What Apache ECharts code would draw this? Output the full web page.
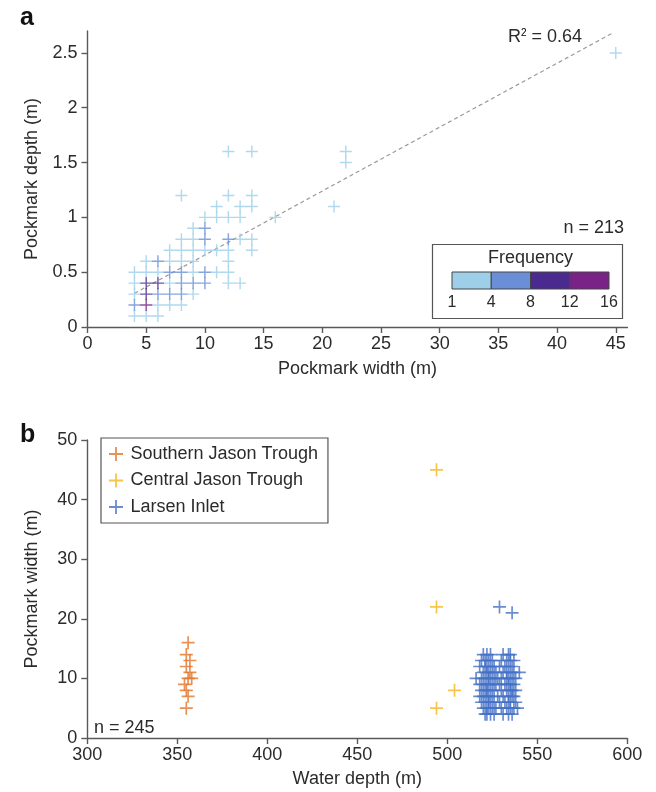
<!DOCTYPE html>
<html><head><meta charset="utf-8">
<script src="https://cdn.jsdelivr.net/npm/echarts@6/dist/echarts.min.js"></script>
<style>html,body{margin:0;padding:0;background:#fff}#c{width:656px;height:792px}</style>
</head><body><div id="c"></div>
<script>
// ---------- Panel a : pockmark width vs depth, coloured by frequency ----------
const widthA = [45,22,22,21,16, 12,14, 8,12,14, 11,13,14, 10,11,12,13, 9,10,
  8,9,10,12,13,14, 7,8,9,10,11,12,14, 5,6,7,8,9,12, 4,5,6,7,8,9,10,11,12,
  4,5,6,7,8,9,10,12,13, 4,5,6,7,8,9, 4,5,6,7,8, 4,5,6];
const depthA = [2.5,1.6,1.5,1.1,1.0, 1.6,1.6, 1.2,1.2,1.2, 1.1,1.1,1.1, 1.0,1.0,1.0,1.0, 0.9,0.9,
  0.8,0.8,0.8,0.8,0.8,0.8, 0.7,0.7,0.7,0.7,0.7,0.7,0.7, 0.6,0.6,0.6,0.6,0.6,0.6,
  0.5,0.5,0.5,0.5,0.5,0.5,0.5,0.5,0.5, 0.4,0.4,0.4,0.4,0.4,0.4,0.4,0.4,0.4,
  0.3,0.3,0.3,0.3,0.3,0.3, 0.2,0.2,0.2,0.2,0.2, 0.1,0.1,0.1];
const freqA = [1,1,1,1,1, 1,1, 1,1,1, 1,1,1, 2,1,1,1, 2,5,
  1,2,6,4,1,2, 2,2,3,3,2,1,1, 2,5,3,3,2,1, 3,3,3,6,6,3,6,1,1,
  3,10,9,3,6,5,6,2,1, 3,11,6,6,4,2, 6,13,3,2,2, 2,3,2];
const fitSlope = 0.0583, fitIntercept = 0.074, fitXRange = [4, 44.8];
const r2Text = '0.64', nA = 213;
const xTicksA = [0,5,10,15,20,25,30,35,40,45];
const yTicksA = [0,0.5,1,1.5,2,2.5];
const freqBreaks = [1,4,8,12,16];
const freqColors = ['#9dcfe8','#6a8fd6','#4b2a8f','#7a2387'];

// ---------- Panel b : water depth vs pockmark width ----------
const sjtDepth = [356,355,357,355,357,358,356,354,355,356,355];
const sjtWidth = [16,14,13,12,11,10,10,9,8,7,5];
const cjtDepth = [494,494,504,494];
const cjtWidth = [45,22,8,5];
const liOutDepth = [529,536];
const liOutWidth = [22,21];
const liRowWidth = [14,13,12,11,10,9,8,7,6,5,4];
const liRowDepths = [
  [520,522,524,531,534,535],
  [519,521,523,525,530,533,535,537],
  [518,521,522,524,526,529,532,534,536],
  [520,522,523,525,527,531,533,535,537,540],
  [516,519,521,523,524,526,528,530,533,534,536,538],
  [518,520,522,523,525,527,529,532,534,535,537],
  [519,521,522,524,526,530,533,535,536,538],
  [518,520,522,523,525,528,531,534,536,537],
  [519,521,523,524,526,529,532,534,535,538],
  [520,522,523,525,527,530,533,535,537,539],
  [521,522,524,526,531,534,536]
];
const nB = 245;
const xTicksB = [300,350,400,450,500,550,600];
const yTicksB = [0,10,20,30,40,50];
const seriesNamesB = ['Southern Jason Trough','Central Jason Trough','Larsen Inlet'];
const seriesColorsB = ['#e2762b','#f5b71a','#4470c4'];

// ---------- build ----------
const FONT = '"Liberation Sans", Arial, sans-serif';
const TXT = '#2b2b2b', AX = '#5a5a5a';
const crossA = 'path://M4.4,0H5.6V10H4.4ZM0,4.4H10V5.6H0Z';
const crossB = 'path://M4.35,0H5.65V10H4.35ZM0,4.35H10V5.65H0Z';

const ptsA = widthA.map((w,i)=>[w, depthA[i], freqA[i]]).sort((a,b)=>a[2]-b[2]);
const fitData = fitXRange.map(x=>[x, fitSlope*x + fitIntercept]);
const liData = [];
liRowWidth.forEach((w,r)=>liRowDepths[r].forEach(d=>liData.push([d,w])));
liOutDepth.forEach((d,i)=>liData.push([d, liOutWidth[i]]));

function axisCommon(ticks, extra){
  return Object.assign({
    type:'value',
    splitLine:{show:false},
    axisLine:{show:true, onZero:false, lineStyle:{color:AX, width:1.4}},
    axisTick:{show:true, inside:false, length:6, customValues:ticks, lineStyle:{color:AX, width:1.4}},
    axisLabel:{customValues:ticks, fontSize:18, color:TXT, fontFamily:FONT},
    nameLocation:'middle',
    nameTextStyle:{fontSize:18, color:TXT, fontFamily:FONT}
  }, extra);
}

// colour-bar legend for panel a
const cbLeft = 452, cbRight = 609, cbTop = 272, cbH = 17;
const segW = (cbRight - cbLeft) / freqColors.length;
const graphics = [
  {type:'text', left:20, top:6, style:{text:'a', font:'bold 25px '+FONT, fill:'#111'}},
  {type:'text', left:20, top:423, style:{text:'b', font:'bold 25px '+FONT, fill:'#111'}},
  {type:'text', x:582, y:37, style:{text:'{r|R}{s|2}{r| = '+r2Text+'}', align:'right', verticalAlign:'middle',
     rich:{r:{fontSize:18, fontFamily:FONT, fill:TXT, color:TXT}, s:{fontSize:10, fontFamily:FONT, color:TXT, verticalAlign:'top', padding:[0,0,8,0]}}}},
  {type:'text', x:624, y:228, style:{text:'n = '+nA, align:'right', verticalAlign:'middle', font:'18px '+FONT, fill:TXT}},
  {type:'rect', shape:{x:432.5, y:244.5, width:190, height:74}, style:{fill:'none', stroke:'#555', lineWidth:1.2}},
  {type:'text', x:(cbLeft+cbRight)/2, y:258, style:{text:'Frequency', align:'center', verticalAlign:'middle', font:'18px '+FONT, fill:TXT}},
  {type:'text', x:94, y:728, style:{text:'n = '+nB, align:'left', verticalAlign:'middle', font:'18px '+FONT, fill:TXT}}
];
freqColors.forEach((c,i)=>{
  graphics.push({type:'rect', shape:{x:cbLeft+i*segW, y:cbTop, width:segW, height:cbH}, style:{fill:c, stroke:'#444', lineWidth:1}});
});
freqBreaks.forEach((b,i)=>{
  graphics.push({type:'text', x:cbLeft+i*segW, y:303, style:{text:String(b), align:'center', verticalAlign:'middle', font:'16px '+FONT, fill:TXT}});
});

const chart = echarts.init(document.getElementById('c'), null, {renderer:'canvas'});
chart.setOption({
  backgroundColor:'#fff',
  animation:false,
  textStyle:{fontFamily:FONT},
  grid:[
    {left:87.5, top:31, width:540, height:296},
    {left:87.3, top:440, width:540, height:298}
  ],
  xAxis:[
    axisCommon(xTicksA, {gridIndex:0, min:0, max:46, name:'Pockmark width (m)', nameGap:33,
      axisLabel:{customValues:xTicksA, fontSize:18, color:TXT, fontFamily:FONT, margin:8}}),
    axisCommon(xTicksB, {gridIndex:1, min:300, max:600, name:'Water depth (m)', nameGap:32,
      axisLabel:{customValues:xTicksB, fontSize:18, color:TXT, fontFamily:FONT, margin:8}})
  ],
  yAxis:[
    axisCommon(yTicksA, {gridIndex:0, min:0, max:2.7, name:'Pockmark depth (m)', nameGap:46,
      axisLabel:{customValues:yTicksA, fontSize:18, color:TXT, fontFamily:FONT, margin:10}}),
    axisCommon(yTicksB, {gridIndex:1, min:0, max:50, name:'Pockmark width (m)', nameGap:46,
      axisLabel:{customValues:yTicksB, fontSize:18, color:TXT, fontFamily:FONT, margin:10}})
  ],
  visualMap:{show:false, type:'piecewise', seriesIndex:0, dimension:2,
    pieces: freqColors.map((c,i)=> i<freqColors.length-1
      ? {gte:freqBreaks[i], lt:freqBreaks[i+1], color:c}
      : {gte:freqBreaks[i], lte:freqBreaks[i+1], color:c})},
  legend:{show:true, orient:'vertical', left:101, top:438, data:seriesNamesB,
    icon:crossB, itemWidth:19, itemHeight:14, itemGap:6.5, padding:[6,10,6,8],
    borderColor:'#555', borderWidth:1.2, selectedMode:false,
    textStyle:{fontSize:18, color:TXT, fontFamily:FONT, lineHeight:20}},
  graphic:graphics,
  series:[
    {type:'scatter', xAxisIndex:0, yAxisIndex:0, data:ptsA, symbol:crossA, symbolSize:12, z:3},
    {type:'line', xAxisIndex:0, yAxisIndex:0, data:fitData, symbol:'none', silent:true, z:2,
      lineStyle:{color:'#9a9a9a', width:1.2, type:[4,3]}},
    {name:seriesNamesB[0], type:'scatter', xAxisIndex:1, yAxisIndex:1,
      data:sjtDepth.map((d,i)=>[d, sjtWidth[i]]), symbol:crossB, symbolSize:13, itemStyle:{color:seriesColorsB[0]}},
    {name:seriesNamesB[1], type:'scatter', xAxisIndex:1, yAxisIndex:1,
      data:cjtDepth.map((d,i)=>[d, cjtWidth[i]]), symbol:crossB, symbolSize:13, itemStyle:{color:seriesColorsB[1]}},
    {name:seriesNamesB[2], type:'scatter', xAxisIndex:1, yAxisIndex:1,
      data:liData, symbol:crossB, symbolSize:13, itemStyle:{color:seriesColorsB[2]}}
  ]
});
</script></body></html>
